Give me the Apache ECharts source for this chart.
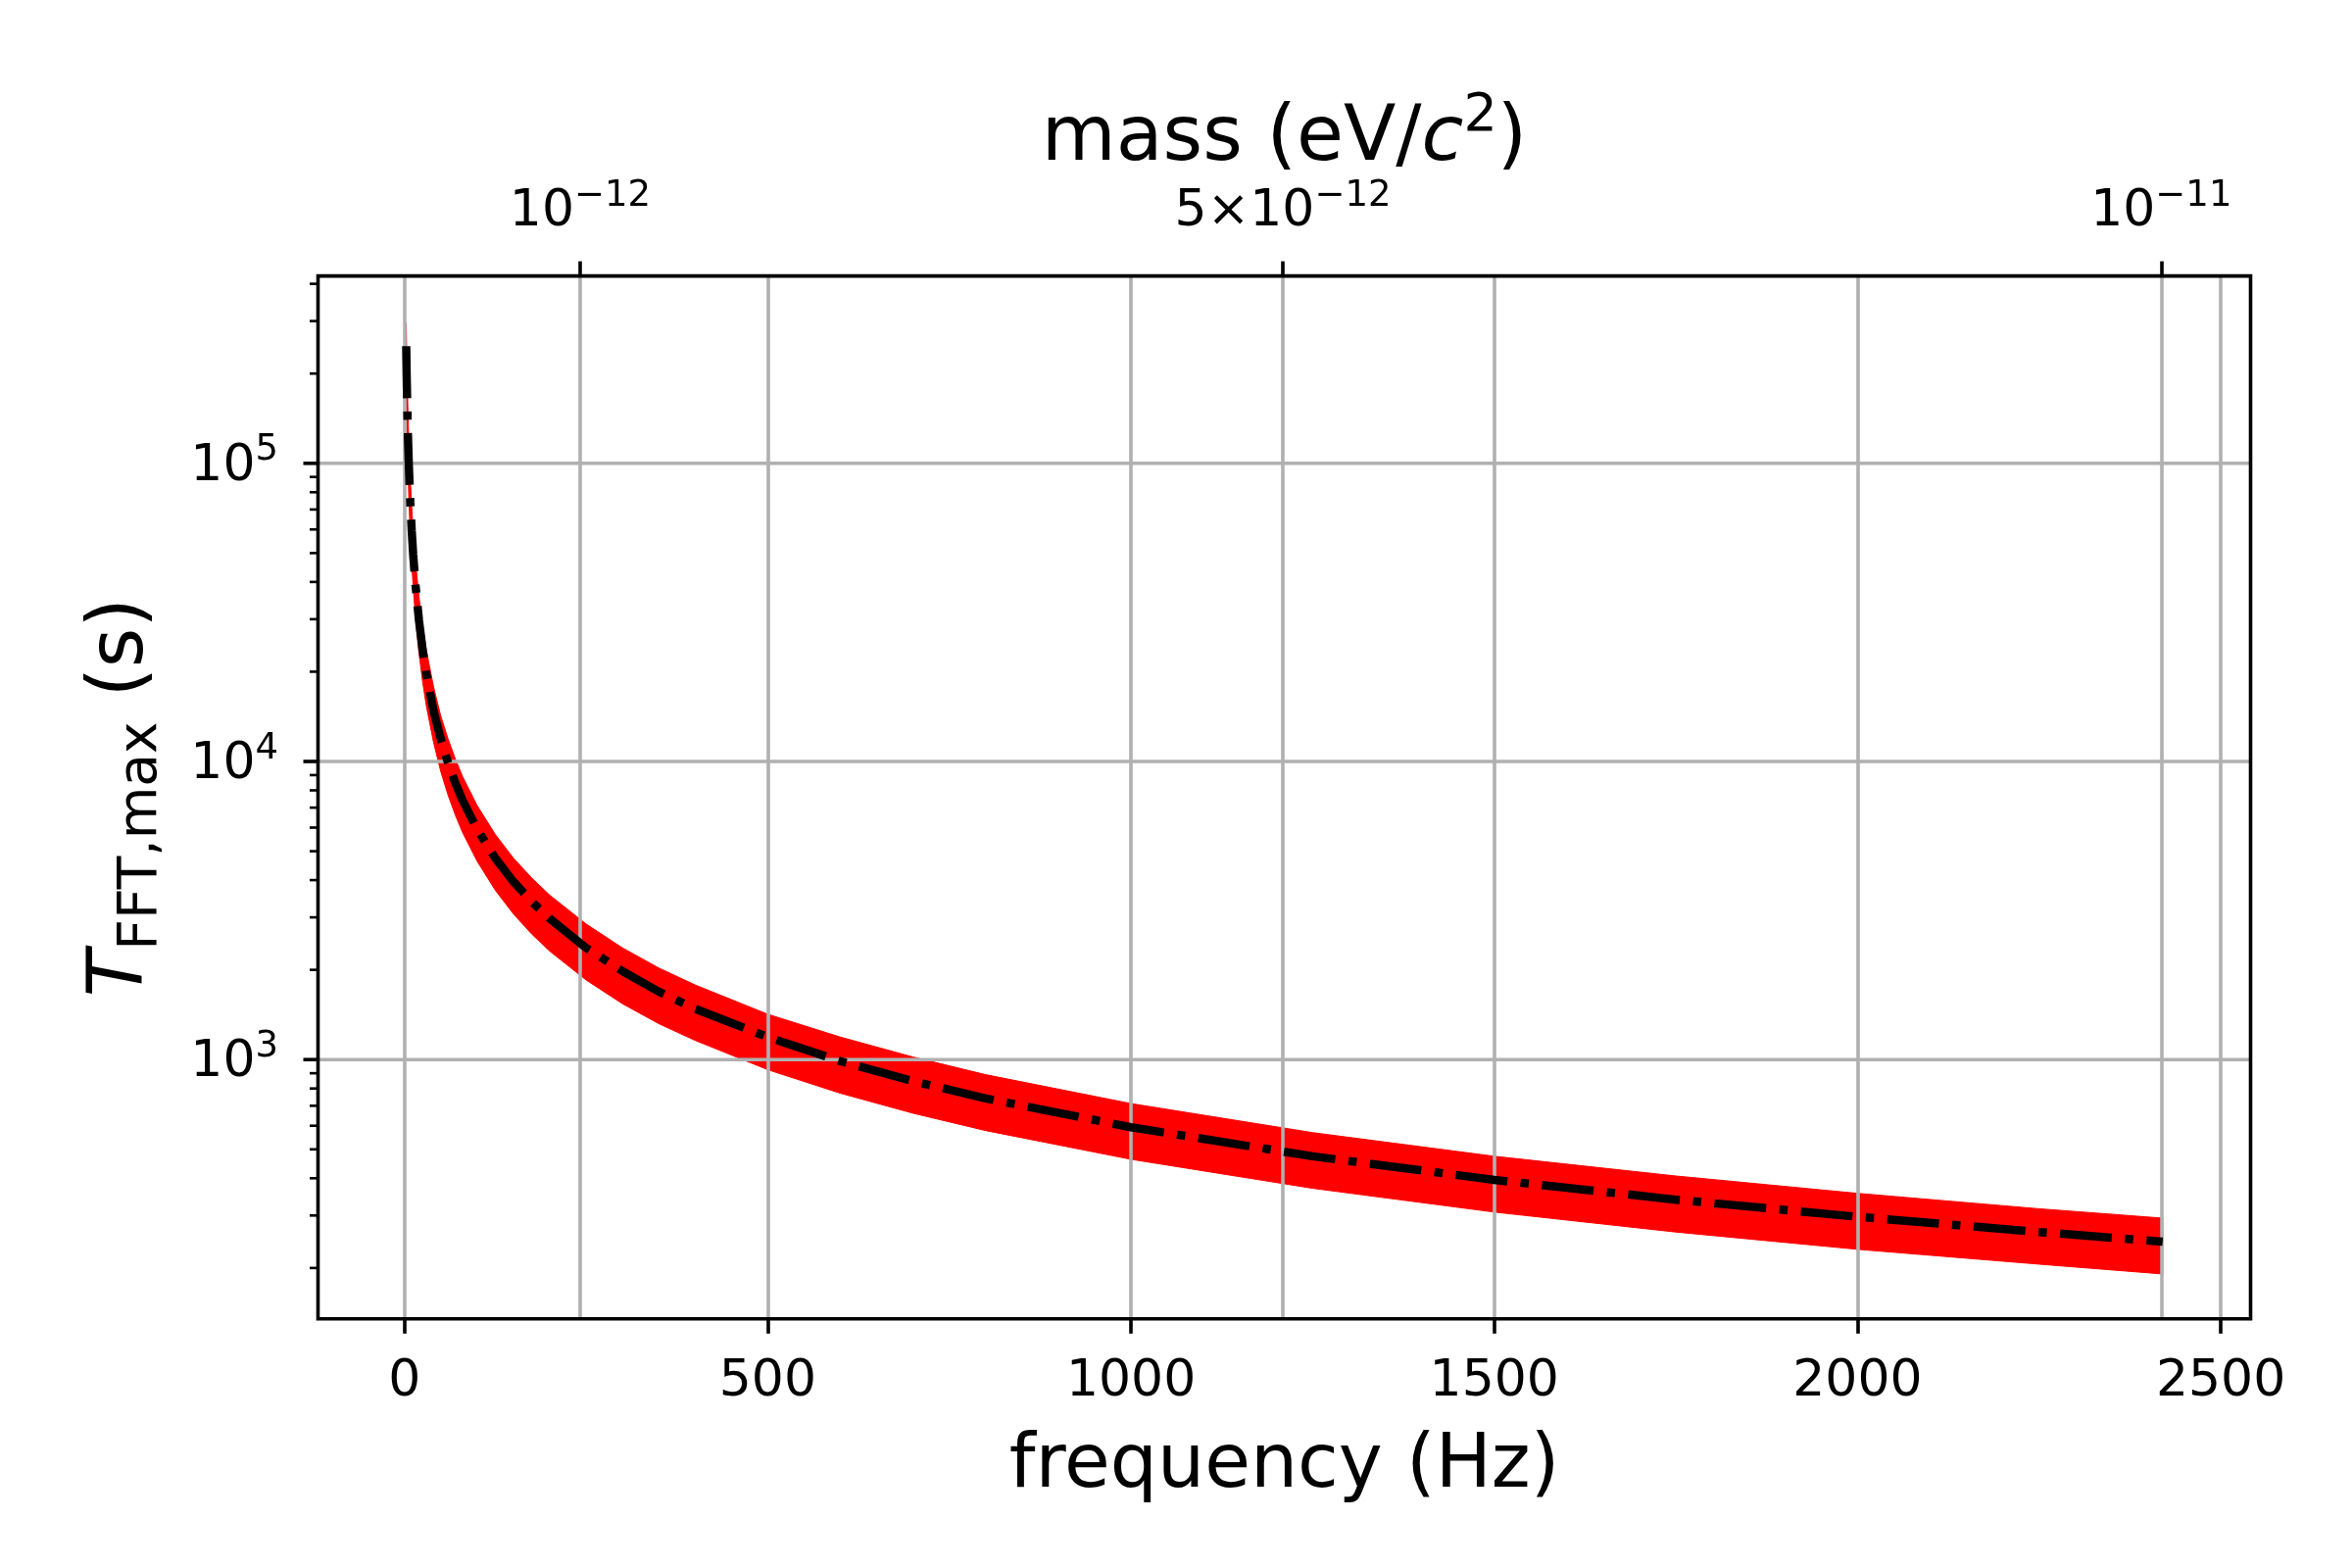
<!DOCTYPE html>
<html><head><meta charset="utf-8">
<script src="https://cdn.jsdelivr.net/npm/echarts@6/dist/echarts.min.js"></script>
<style>html,body{margin:0;padding:0;background:#fff}#c{width:2400px;height:1600px}</style>
</head><body><div id="c"></div>
<script>
// ---- data ----
const freqHz = [2.4,3,4,5,6,8,10,12,15,20,25,30,40,50,60,70,80,100,125,150,175,200,250,300,350,400,500,600,700,800,1000,1250,1500,1750,2000,2250,2420];
const tCentral = [247000,198000,148000,119000,98800,74100,59300,49400,39500,29700,23700,19800,14800,11900,9880,8470,7410,5930,4740,3950,3390,2970,2370,1980,1690,1480,1190,988,847,741,593,474,395,339,297,264,245];
const tUpper = [296000,237000,178000,142000,119000,88900,71200,59300,47400,35600,28500,23700,17800,14200,11900,10200,8900,7120,5690,4740,4070,3560,2850,2370,2030,1780,1420,1190,1020,890,712,569,474,407,356,316,294];
const tLower = [193000,154000,116000,92500,77100,57800,46300,38500,30800,23100,18500,15400,11600,9250,7710,6610,5780,4630,3700,3080,2640,2310,1850,1540,1320,1160,925,771,661,578,463,370,308,264,231,206,191];

// ---- ticks / labels ----
const freqTicks = [0,500,1000,1500,2000,2500];
const massTicks = [1e-12, 5e-12, 1e-11];
const massTickLabels = [['', '10', '\u221212'], ['5\u00d7', '10', '\u221212'], ['', '10', '\u221211']];
const tMajorTicks = [1e3, 1e4, 1e5];
const tMajorLabels = [['10','3'], ['10','4'], ['10','5']];
const tMinorTicks = [200,300,400,500,600,700,800,900,2000,3000,4000,5000,6000,7000,8000,9000,20000,30000,40000,50000,60000,70000,80000,90000,200000,300000,400000];

// ---- axis limits ----
const freqLimits = [-119, 2541];
const tLimits = [135, 425000];
const H_EV_S = 4.135667696e-15; // Planck constant, eV*s (mass axis = f*h)
const massLimits = freqLimits.map(f => f * H_EV_S);

const FONT = 'DejaVu Sans';
const GRAY = '#b0b0b0';

function nearestIndex(arr, v) {
  let best = -1, bd = Infinity;
  arr.forEach((a, i) => { const d = Math.abs(a - v) / Math.abs(a); if (d < bd) { bd = d; best = i; } });
  return bd < 1e-6 ? best : -1;
}

const chart = echarts.init(document.getElementById('c'), null, {renderer: 'canvas', width: 2400, height: 1600});

function tickSeries(values, len, width) {
  return {
    type: 'custom', xAxisIndex: 0, yAxisIndex: 0, z: 5, clip: false, silent: true,
    data: values.map(v => [freqLimits[0], v]),
    renderItem: (params, api) => {
      const p = api.coord([api.value(0), api.value(1)]);
      const x0 = params.coordSys.x;
      return {type: 'line', shape: {x1: x0, y1: p[1], x2: x0 - len, y2: p[1]}, style: {stroke: '#000', lineWidth: width}};
    }
  };
}

const option = {
  animation: false,
  backgroundColor: '#ffffff',
  grid: {left: 324.5, right: 103.5, top: 281.6, bottom: 254.2, show: true, borderColor: '#000', borderWidth: 3.6,
         backgroundColor: 'transparent', z: 10, containLabel: false, outerBoundsMode: 'none'},
  xAxis: [
    {
      type: 'value', position: 'bottom', min: freqLimits[0], max: freqLimits[1], z: 2,
      name: 'frequency (Hz)', nameLocation: 'middle', nameGap: 106, nameMoveOverlap: false,
      nameTextStyle: {fontFamily: FONT, fontSize: 76, color: '#000', lineHeight: 90},
      axisLine: {show: false},
      axisTick: {show: true, customValues: freqTicks, length: 15, lineStyle: {color: '#000', width: 3.6}},
      axisLabel: {customValues: freqTicks, margin: 35, fontFamily: FONT, fontSize: 52, color: '#000', lineHeight: 60,
                  formatter: v => String(Math.round(v))},
      splitLine: {show: true, lineStyle: {color: GRAY, width: 3.6}}
    },
    {
      type: 'value', position: 'top', min: massLimits[0], max: massLimits[1], z: 2,
      name: '{t|mass (eV/}{i|c}{s|2}{t|)}', nameLocation: 'middle', nameGap: 94, nameMoveOverlap: false,
      nameTextStyle: {color: '#000', rich: {
        t: {fontFamily: FONT, fontSize: 78, color: '#000', lineHeight: 90},
        i: {fontFamily: FONT, fontSize: 78, fontStyle: 'italic', color: '#000', lineHeight: 90},
        s: {fontFamily: FONT, fontSize: 54, color: '#000', lineHeight: 60, padding: [0, 0, 47, 0]}
      }},
      axisLine: {show: false},
      axisTick: {show: true, customValues: massTicks, length: 15, lineStyle: {color: '#000', width: 3.6}},
      axisLabel: {
        customValues: massTicks, margin: 35, color: '#000',
        formatter: v => {
          const k = nearestIndex(massTicks, v);
          if (k < 0) return '';
          const l = massTickLabels[k];
          return (l[0] ? '{b|' + l[0] + '}' : '') + '{b|' + l[1] + '}{s|' + l[2] + '}';
        },
        rich: {
          b: {fontFamily: FONT, fontSize: 52, color: '#000', lineHeight: 60},
          s: {fontFamily: FONT, fontSize: 37, color: '#000', lineHeight: 44, padding: [0, 0, 33, 0]}
        }
      },
      splitLine: {show: true, lineStyle: {color: GRAY, width: 3.6}}
    }
  ],
  yAxis: [{
    type: 'log', logBase: 10, min: tLimits[0], max: tLimits[1], z: 2,
    name: '{i|T}{sub|FFT,max}{n| (s)}', nameLocation: 'middle', nameGap: 155, nameMoveOverlap: false,
    nameTextStyle: {color: '#000', rich: {
      i: {fontFamily: FONT, fontSize: 78, fontStyle: 'italic', color: '#000', lineHeight: 90},
      sub: {fontFamily: FONT, fontSize: 55, color: '#000', lineHeight: 60, padding: [40, 0, 0, 0]},
      n: {fontFamily: FONT, fontSize: 78, color: '#000', lineHeight: 90}
    }},
    axisLine: {show: false}, axisTick: {show: false}, splitLine: {show: false}, minorTick: {show: false},
    axisLabel: {
      margin: 40.5, color: '#000',
      formatter: v => {
        const k = nearestIndex(tMajorTicks, v);
        if (k < 0) return '';
        return '{b|' + tMajorLabels[k][0] + '}{s|' + tMajorLabels[k][1] + '}';
      },
      rich: {
        b: {fontFamily: FONT, fontSize: 52, color: '#000', lineHeight: 60, padding: [7, 0, 0, 0]},
        s: {fontFamily: FONT, fontSize: 37, color: '#000', lineHeight: 44, padding: [0, 0, 26, 0]}
      }
    }
  }],
  series: [
    {
      type: 'custom', name: 'band', xAxisIndex: 0, yAxisIndex: 0, z: 1, clip: false, silent: true,
      data: [[freqHz[0], tUpper[0]]],
      renderItem: (params, api) => {
        const pts = [];
        for (let i = 0; i < freqHz.length; i++) pts.push(api.coord([freqHz[i], tUpper[i]]));
        for (let i = freqHz.length - 1; i >= 0; i--) pts.push(api.coord([freqHz[i], tLower[i]]));
        return {type: 'polygon', shape: {points: pts}, style: {fill: '#ff0000', stroke: '#ff0000', lineWidth: 1}};
      }
    },
    {
      type: 'custom', name: 'ygrid', xAxisIndex: 0, yAxisIndex: 0, z: 2, clip: false, silent: true,
      data: tMajorTicks.map(v => [freqLimits[0], v]),
      renderItem: (params, api) => {
        const p = api.coord([api.value(0), api.value(1)]);
        const cs = params.coordSys;
        return {type: 'line', shape: {x1: cs.x, y1: p[1], x2: cs.x + cs.width, y2: p[1]}, style: {stroke: GRAY, lineWidth: 3.6}};
      }
    },
    {
      type: 'line', name: 'T', xAxisIndex: 0, yAxisIndex: 0, z: 5, silent: true,
      data: freqHz.map((f, i) => [f, tCentral[i]]),
      showSymbol: false, symbol: 'none',
      lineStyle: {color: '#000', width: 8.5, type: [53, 13.5, 8.5, 13.5], cap: 'butt'}
    },
    tickSeries(tMajorTicks, 15, 3.6),
    tickSeries(tMinorTicks, 8.5, 2.6)
  ]
};
chart.setOption(option);
</script>
</body></html>
